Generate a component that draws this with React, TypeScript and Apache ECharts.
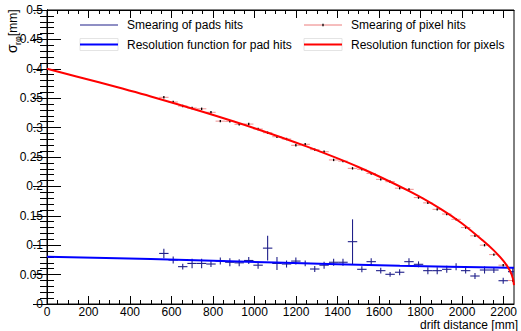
import React, { useEffect, useRef } from "react";
import * as echarts from "echarts";

const FONT = '"Liberation Sans", Arial, Helvetica, sans-serif';

// Bin centres (drift distance, mm)
const BIN_X = [563, 608, 654, 699, 745, 790, 835, 881, 926, 972, 1017, 1063, 1108, 1154, 1199, 1244, 1290, 1335, 1381, 1426, 1472, 1517, 1562, 1608, 1653, 1699, 1744, 1790, 1835, 1880, 1926, 1971, 2017, 2062, 2108, 2153, 2198, 2244];
const BIN_HALF = 22.7;

// Smearing of pads hits
const PAD_Y = [0.086, 0.0748, 0.0635, 0.069, 0.069, 0.068, 0.073, 0.071, 0.070, 0.074, 0.066, 0.095, 0.069, 0.068, 0.073, 0.069, 0.0595, 0.066, 0.071, 0.071, 0.106, 0.059, 0.072, 0.0567, 0.0505, 0.054, 0.072, 0.0675, 0.0567, 0.0567, 0.059, 0.0635, 0.0567, 0.0476, 0.0578, 0.0578, 0.0396, 0.055];
const PAD_ERR = [0.008, 0.006, 0.005, 0.008, 0.008, 0.005, 0.006, 0.007, 0.006, 0.006, 0.006, 0.021, 0.011, 0.006, 0.006, 0.005, 0.005, 0.006, 0.006, 0.006, 0.038, 0.005, 0.006, 0.005, 0.004, 0.005, 0.006, 0.005, 0.006, 0.006, 0.006, 0.006, 0.005, 0.005, 0.006, 0.005, 0.005, 0.007];

// Smearing of pixel hits
const PIX_Y = [0.3515, 0.3435, 0.3367, 0.3333, 0.332, 0.326, 0.311, 0.3107, 0.3056, 0.306, 0.2976, 0.2913, 0.2845, 0.2806, 0.2699, 0.2716, 0.2625, 0.259, 0.245, 0.243, 0.2307, 0.229, 0.222, 0.212, 0.208, 0.197, 0.195, 0.181, 0.172, 0.161, 0.153, 0.144, 0.130, 0.116, 0.100, 0.084, 0.066, 0.040];
const PIX_ERR = [0.001, 0.001, 0.001, 0.001, 0.001, 0.001, 0.001, 0.001, 0.001, 0.001, 0.001, 0.001, 0.001, 0.001, 0.001, 0.001, 0.001, 0.001, 0.001, 0.001, 0.001, 0.001, 0.001, 0.001, 0.001, 0.001, 0.001, 0.001, 0.001, 0.001, 0.001, 0.001, 0.001, 0.001, 0.001, 0.001, 0.001, 0.001];

// Resolution function for pad hits
const BLUE_X = [0, 500, 1100, 1700, 2250];
const BLUE_Y = [0.0805, 0.0765, 0.0705, 0.0652, 0.0615];

// Resolution function for pixels
const RED_X = [0, 250, 500, 750, 1000, 1250, 1500, 1750, 1900, 2000, 2100, 2150, 2200, 2230, 2245, 2250];
const RED_Y = [0.400, 0.377, 0.353, 0.327, 0.299, 0.268, 0.233, 0.191, 0.161, 0.137, 0.108, 0.092, 0.073, 0.057, 0.043, 0.032];

const X_MAJOR = [0, 200, 400, 600, 800, 1000, 1200, 1400, 1600, 1800, 2000, 2200];
const X_MINOR = [50, 100, 150, 250, 300, 350, 450, 500, 550, 650, 700, 750, 850, 900, 950, 1050, 1100, 1150, 1250, 1300, 1350, 1450, 1500, 1550, 1650, 1700, 1750, 1850, 1900, 1950, 2050, 2100, 2150];

function makeErrRender(color: string, width: number, dot: boolean) {
  return (params: any, api: any) => {
    const x = api.value(0);
    const y = api.value(1);
    const ex = api.value(2);
    const ey = api.value(3);
    const l = api.coord([x - ex, y]);
    const r = api.coord([x + ex, y]);
    const t = api.coord([x, y + ey]);
    const b = api.coord([x, y - ey]);
    const c = api.coord([x, y]);
    const children: any[] = [
      { type: "line", shape: { x1: l[0], y1: l[1], x2: r[0], y2: r[1] }, style: { stroke: color, lineWidth: width } },
      { type: "line", shape: { x1: t[0], y1: t[1], x2: b[0], y2: b[1] }, style: { stroke: color, lineWidth: width } },
    ];
    if (dot) {
      children.push({ type: "line", shape: { x1: c[0], y1: c[1] - 1.2, x2: c[0], y2: c[1] + 1.2 }, style: { stroke: "#000", lineWidth: 1.3 } });
    }
    return { type: "group", children };
  };
}

const xBase = (extra: any) => ({
  type: "value",
  min: 0,
  max: 2250,
  splitLine: { show: false },
  ...extra,
});

const rotText = (text: string, x: number, y: number, size: number) => ({
  type: "text",
  x,
  y,
  rotation: Math.PI / 2,
  z: 10,
  style: { text, fontSize: size, fontFamily: FONT, fill: "#000", verticalAlign: "bottom", align: "left" },
});

export default function App() {
  const ref = useRef<HTMLDivElement>(null);
  useEffect(() => {
    if (!ref.current) return;
    const chart = echarts.init(ref.current, null, { renderer: "svg" });
    const tickLine = { color: "#000", width: 1 };
    const option: any = {
      animation: false,
      backgroundColor: "#fff",
      grid: { left: 47, right: 7, top: 10, bottom: 27, show: true, borderColor: "#000", borderWidth: 1, backgroundColor: "transparent" },
      xAxis: [
        xBase({
          position: "bottom",
          axisLine: { show: true, lineStyle: tickLine },
          axisTick: { show: true, inside: true, length: 8, customValues: X_MAJOR, lineStyle: tickLine },
          axisLabel: { customValues: X_MAJOR, fontSize: 12, lineHeight: 12, color: "#000", margin: 2, fontFamily: FONT, formatter: (v: number) => String(v) },
        }),
        xBase({
          position: "bottom",
          axisLine: { show: false },
          axisTick: { show: true, inside: true, length: 4, customValues: X_MINOR, lineStyle: tickLine },
          axisLabel: { show: false },
        }),
        xBase({
          position: "top",
          axisLine: { show: true, lineStyle: tickLine },
          axisTick: { show: true, inside: true, length: 8, customValues: X_MAJOR, lineStyle: tickLine },
          axisLabel: { show: false },
        }),
        xBase({
          position: "top",
          axisLine: { show: false },
          axisTick: { show: true, inside: true, length: 4, customValues: X_MINOR, lineStyle: tickLine },
          axisLabel: { show: false },
        }),
      ],
      yAxis: [
        {
          type: "value", min: 0, max: 0.5, interval: 0.05, position: "left",
          splitLine: { show: false },
          axisLine: { show: true, lineStyle: tickLine },
          axisTick: { show: true, inside: true, length: 14, lineStyle: tickLine },
          minorTick: { show: true, splitNumber: 5, length: 7, lineStyle: tickLine },
          axisLabel: { fontSize: 12, color: "#000", margin: 4, fontFamily: FONT },
        },
        {
          type: "value", min: 0, max: 0.5, interval: 0.05, position: "right",
          splitLine: { show: false },
          axisLine: { show: true, lineStyle: tickLine },
          axisTick: { show: true, inside: true, length: 14, lineStyle: tickLine },
          minorTick: { show: true, splitNumber: 5, length: 7, lineStyle: tickLine },
          axisLabel: { show: false },
        },
      ],
      series: [
        {
          name: "Smearing of pixel hits",
          type: "custom",
          xAxisIndex: 0,
          yAxisIndex: 0,
          clip: true,
          renderItem: makeErrRender("rgba(228,70,70,0.6)", 1, true),
          encode: { x: 0, y: 1 },
          data: BIN_X.map((x, i) => [x, PIX_Y[i], BIN_HALF, PIX_ERR[i]]),
          z: 2,
        },
        {
          name: "Smearing of pads hits",
          type: "custom",
          xAxisIndex: 0,
          yAxisIndex: 0,
          clip: true,
          renderItem: makeErrRender("#20208a", 1.1, false),
          encode: { x: 0, y: 1 },
          data: BIN_X.map((x, i) => [x, PAD_Y[i], BIN_HALF, PAD_ERR[i]]),
          z: 2,
        },
        {
          name: "Resolution function for pad hits",
          type: "line",
          xAxisIndex: 0,
          yAxisIndex: 0,
          smooth: 0.3,
          showSymbol: false,
          clip: true,
          lineStyle: { color: "#0000ff", width: 2 },
          data: BLUE_X.map((x, i) => [x, BLUE_Y[i]]),
          z: 3,
        },
        {
          name: "Resolution function for pixels",
          type: "line",
          xAxisIndex: 0,
          yAxisIndex: 0,
          smooth: 0.3,
          showSymbol: false,
          clip: true,
          lineStyle: { color: "#ff0000", width: 2 },
          data: RED_X.map((x, i) => [x, RED_Y[i]]),
          z: 3,
        },
      ],
      graphic: [
        // legend
        { type: "line", shape: { x1: 80, y1: 25, x2: 118, y2: 25 }, style: { stroke: "#20208a", lineWidth: 1.2 }, z: 10 },
        { type: "text", x: 127, y: 25, style: { text: "Smearing of pads hits", fontSize: 12, fontFamily: FONT, fill: "#000", verticalAlign: "middle", align: "left" }, z: 10 },
        { type: "line", shape: { x1: 304, y1: 25, x2: 342, y2: 25 }, style: { stroke: "rgba(228,70,70,0.7)", lineWidth: 1 }, z: 10 },
        { type: "line", shape: { x1: 323, y1: 23.8, x2: 323, y2: 26.2 }, style: { stroke: "#000", lineWidth: 1.3 }, z: 11 },
        { type: "text", x: 351, y: 25, style: { text: "Smearing of pixel hits", fontSize: 12, fontFamily: FONT, fill: "#000", verticalAlign: "middle", align: "left" }, z: 10 },
        { type: "rect", shape: { x: 80, y: 38.5, width: 38, height: 12 }, style: { fill: "none", stroke: "#e4e4e4", lineWidth: 1 }, z: 9 },
        { type: "line", shape: { x1: 80, y1: 44.5, x2: 118, y2: 44.5 }, style: { stroke: "#0000ff", lineWidth: 2 }, z: 10 },
        { type: "text", x: 127, y: 44.5, style: { text: "Resolution function for pad hits", fontSize: 12, fontFamily: FONT, fill: "#000", verticalAlign: "middle", align: "left" }, z: 10 },
        { type: "rect", shape: { x: 304, y: 38.5, width: 38, height: 12 }, style: { fill: "none", stroke: "#e4e4e4", lineWidth: 1 }, z: 9 },
        { type: "line", shape: { x1: 304, y1: 44.5, x2: 342, y2: 44.5 }, style: { stroke: "#ff0000", lineWidth: 2 }, z: 10 },
        { type: "text", x: 351, y: 44.5, style: { text: "Resolution function for pixels", fontSize: 12, fontFamily: FONT, fill: "#000", verticalAlign: "middle", align: "left" }, z: 10 },
        // x axis title
        { type: "text", x: 518, y: 331, style: { text: "drift distance [mm]", fontSize: 12, lineHeight: 12, fontFamily: FONT, fill: "#000", verticalAlign: "bottom", align: "right" }, z: 10 },
        // y axis title (reads bottom to top)
        rotText("σ", 19, 53, 14),
        rotText("rφ", 22, 45, 9),
        rotText("[mm]", 19, 36, 12),
      ],
    };
    chart.setOption(option);
    return () => chart.dispose();
  }, []);
  return <div ref={ref} style={{ position: "fixed", left: 0, top: 0, width: 521, height: 331, background: "#fff" }} />;
}
